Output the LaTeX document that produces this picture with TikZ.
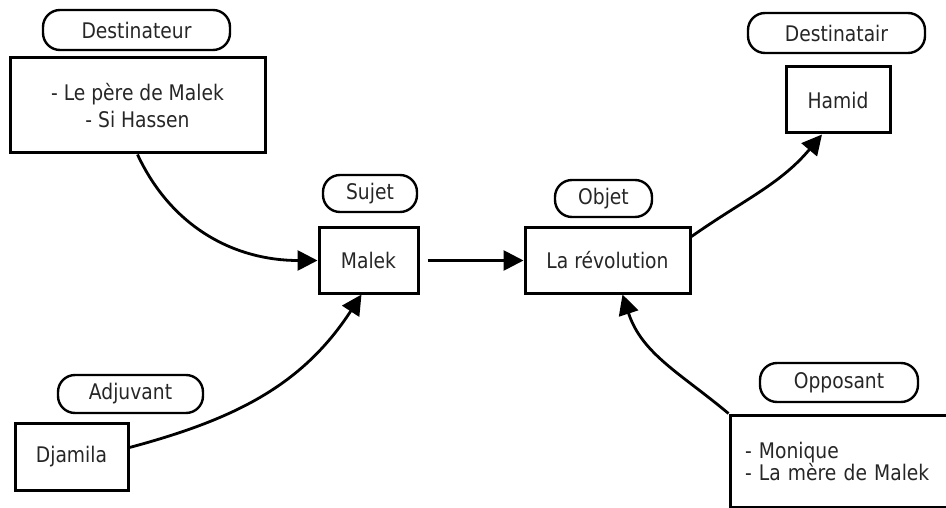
\documentclass[tikz,border=0pt]{standalone}
\usepackage{fontspec}
\setmainfont{DejaVu Sans}[FakeStretch=0.87]
\usetikzlibrary{arrows.meta}
\begin{document}
\begin{tikzpicture}[x=1pt,y=-1pt,
  pill/.style={draw, line width=2.4pt, rounded corners=17pt, inner sep=0pt, text=black!85},
  box/.style={draw, line width=3pt, inner sep=0pt, text=black!85},
  link/.style={line width=2.8pt, -{Triangle[length=20pt,width=20pt]}},
  font=\fontsize{21.5}{26}\selectfont]
\useasboundingbox (0,0) rectangle (946,508);

% role labels
\node[pill, minimum width=187pt, minimum height=40pt] (lDest)  at (136.5,30)  {Destinateur};
\node[pill, minimum width=94pt,  minimum height=37pt] (lSuj)   at (370,193.5) {Sujet};
\node[pill, minimum width=97pt,  minimum height=37pt] (lObj)   at (603.5,198.5) {Objet};
\node[pill, minimum width=177pt, minimum height=40pt] (lDesta) at (836.5,33)  {Destinatair};
\node[pill, minimum width=145pt, minimum height=38pt] (lAdj)   at (130.5,394) {Adjuvant};
\node[pill, minimum width=158pt, minimum height=39pt] (lOpp)   at (839,382.5) {Opposant};

% actants
\node[box, minimum width=255pt, minimum height=95pt, align=center,
      font=\fontsize{21.5}{27}\selectfont] (dest) at (137.5,105.5)
      {- Le père de Malek\\- Si Hassen};
\node[box, minimum width=99pt,  minimum height=65pt] (malek) at (368.5,260.5) {Malek};
\node[box, minimum width=165pt, minimum height=65pt] (rev)   at (607.5,260.5) {La révolution};
\node[box, minimum width=104pt, minimum height=66pt] (hamid) at (838,100)     {Hamid};
\node[box, minimum width=113pt, minimum height=67pt] (djam)  at (71.5,456.5)  {Djamila};
\node[box, text width=202pt, inner xsep=15pt, minimum height=92pt, align=left,
      font=\fontsize{21.5}{22}\selectfont] (opp) at (846,461)
      {- Monique\\- La mère de Malek};

% relations
\draw[link] (dest.south) to[out=-65,in=180] (malek.west);
\draw[link] ([yshift=9pt]djam.east) to[out=15,in=-123] ([xshift=-7pt]malek.south);
\draw[link, shorten <=8pt] (malek.east) -- (rev.west);
\draw[link] ([yshift=-10pt]rev.north east) to[out=35,in=-130] ([xshift=-16pt]hamid.south);
\draw[link] (opp.north west) to[out=140,in=-72] ([xshift=15pt]rev.south);
\end{tikzpicture}
\end{document}
